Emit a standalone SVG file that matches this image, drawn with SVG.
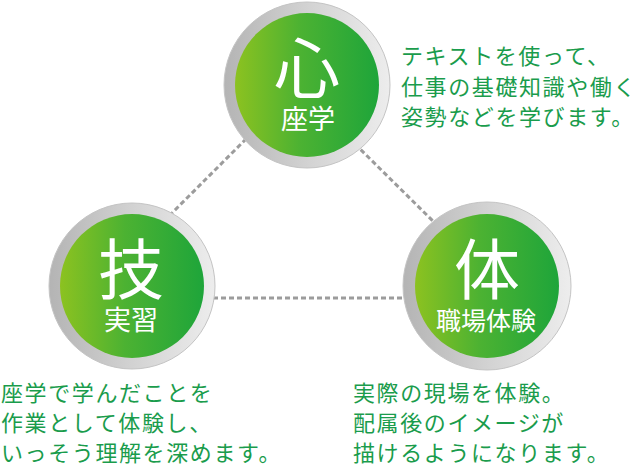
<svg xmlns="http://www.w3.org/2000/svg" width="640" height="468" viewBox="0 0 640 468">
  <defs>
    <linearGradient id="ring" x1="0" y1="0" x2="1" y2="0">
      <stop offset="0" stop-color="#b4b4b4"/>
      <stop offset="0.5" stop-color="#d2d2d2"/>
      <stop offset="1" stop-color="#ededed"/>
    </linearGradient>
    <linearGradient id="green" x1="0" y1="0" x2="1" y2="0">
      <stop offset="0" stop-color="#8cc220"/>
      <stop offset="0.45" stop-color="#4cb232"/>
      <stop offset="1" stop-color="#1ea53a"/>
    </linearGradient>
  </defs>
  <style>
    .conn { stroke: #9c9c9c; stroke-width: 3; stroke-dasharray: 5 3; fill: none; }
    .ring { fill: url(#ring); stroke: #c4c4c4; stroke-width: 1; }
    .core { fill: url(#green); }
    .big { font-family: "Noto Sans CJK JP", "Noto Sans", sans-serif; font-size: 66px; fill: #ffffff; text-anchor: middle; }
    .lbl { font-family: "Noto Sans CJK JP", "Noto Sans", sans-serif; font-size: 27px; fill: #ffffff; text-anchor: middle; }
    .desc { font-family: "Noto Sans CJK JP", "Noto Sans", sans-serif; font-size: 22px; fill: #1a9c4c; letter-spacing: 1.6px; }
  </style>

  <g id="connectors">
    <line class="conn" x1="252" y1="133" x2="165" y2="220"/>
    <line class="conn" x1="355" y1="144" x2="440" y2="228"/>
    <line class="conn" x1="205" y1="298" x2="412" y2="298"/>
  </g>

  <g id="node-kokoro">
    <circle class="ring" cx="307" cy="85" r="83"/>
    <circle class="core" cx="307" cy="85" r="72"/>
    <text class="big" x="307" y="93">心</text>
    <text class="lbl" x="308" y="129">座学</text>
  </g>

  <g id="node-waza">
    <circle class="ring" cx="132" cy="286" r="83"/>
    <circle class="core" cx="132" cy="286" r="72"/>
    <text class="big" x="131" y="294">技</text>
    <text class="lbl" x="131" y="330">実習</text>
  </g>

  <g id="node-karada">
    <circle class="ring" cx="487" cy="286" r="84"/>
    <circle class="core" cx="487" cy="286" r="72"/>
    <text class="big" x="487" y="294">体</text>
    <text class="lbl" x="486" y="330" style="font-size:25px">職場体験</text>
  </g>

  <g id="text-kokoro">
    <text class="desc" x="401" y="64">テキストを使って、</text>
    <text class="desc" x="401" y="95">仕事の基礎知識や働く</text>
    <text class="desc" x="401" y="125">姿勢などを学びます。</text>
  </g>

  <g id="text-waza">
    <text class="desc" x="1" y="401">座学で学んだことを</text>
    <text class="desc" x="1" y="431">作業として体験し、</text>
    <text class="desc" x="1" y="461">いっそう理解を深めます。</text>
  </g>

  <g id="text-karada">
    <text class="desc" x="353" y="401">実際の現場を体験。</text>
    <text class="desc" x="353" y="431">配属後のイメージが</text>
    <text class="desc" x="353" y="461">描けるようになります。</text>
  </g>
</svg>
